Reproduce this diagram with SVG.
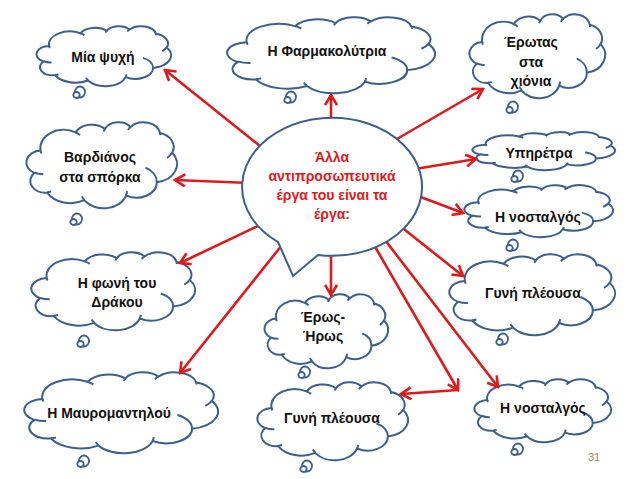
<svg xmlns="http://www.w3.org/2000/svg" xmlns:xlink="http://www.w3.org/1999/xlink" width="638" height="479" viewBox="0 0 638 479">
<style>
.cb{fill:#fff;stroke:#3b5f8e;stroke-width:2;vector-effect:non-scaling-stroke}
.cc{fill:none;stroke:#3b5f8e;stroke-width:2;vector-effect:non-scaling-stroke}
.tail ellipse{fill:#fff;stroke:#3b5f8e;stroke-width:1.8}
.lbl{font-family:"Liberation Sans",Arial,sans-serif;font-weight:bold;font-size:14px;fill:#111;text-anchor:middle}
.ctr{font-family:"Liberation Sans",Arial,sans-serif;font-weight:bold;font-size:14px;fill:#e0191b;text-anchor:middle}
.conn line{stroke:#e0191b;stroke-width:2.6;fill:none;marker-end:url(#ah)}
</style>
<defs>
<g id="cloud">
<path class="cb" d="M39 143.7 A67.53 91.9 0 0 1 140.06 52.03 A53.33 72.67 0 0 1 224.56 34.32 A43.65 59.45 0 0 1 298.33 24.8 A48.57 65.95 0 0 1 383.19 55.75 A53.33 72.73 0 0 1 418.19 154.59 A67.75 92.2 0 0 1 374.04 302.02 A57.85 78.67 0 0 1 285.56 368.12 A67.52 92.15 0 0 1 164.8 392.64 A77.2 105.43 0 0 1 58.05 354.71 A43.6 59.18 0 0 1 21.13 255.5 A43.45 59.45 0 0 1 39 143.7 Z"/>
<path class="cc" d="M46.93 261.77 A43.45 59.45 0 0 1 21.6 253.8 M69.28 348.99 A43.6 59.18 0 0 1 58.2 352.8 M164.78 390.9 A67.52 92.15 0 0 1 158.09 373.48 M288.27 347.51 A67.52 92.15 0 0 1 285.6 366.6 M341.29 229.54 A57.85 78.67 0 0 1 373.81 300.9 M417.98 153.54 A53.33 72.73 0 0 1 403.51 180.29 M383.24 54.26 A48.57 65.95 0 0 1 384 66.9 M290.78 39.52 A48.57 65.95 0 0 1 298.2 23.41 M221.41 47.2 A43.65 59.45 0 0 1 225 33.3 M140 51.92 A67.53 91.9 0 0 1 153.01 65.41 M41.27 157.89 A67.53 91.9 0 0 1 39 143.71"/>
</g>
<g id="tl" class="tail"><ellipse cx="2" cy="-1" rx="5" ry="5.5"/><ellipse cx="-1.5" cy="2" rx="3.2" ry="3"/></g>
<marker id="ah" markerUnits="userSpaceOnUse" viewBox="0 0 14 14" markerWidth="14" markerHeight="14" refX="12" refY="7" orient="auto">
<path d="M2 1 L12 7 L2 13" fill="none" stroke="#e0191b" stroke-width="2.6"/>
</marker>
</defs>
<rect width="638" height="479" fill="#fff"/>

<g id="n-miapsyxi">
<use xlink:href="#cloud" transform="translate(37,26) scale(0.3102,0.1389)"/>
<use xlink:href="#tl" x="78" y="93"/>
<text class="lbl" x="103" y="62">Μία ψυχή</text>
</g>
<g id="n-farmakolytria">
<use xlink:href="#cloud" transform="translate(228,17) scale(0.4792,0.1759)"/>
<use xlink:href="#tl" x="289" y="98"/>
<text class="lbl" x="327" y="56">Η Φαρμακολύτρια</text>
</g>
<g id="n-erotas">
<use xlink:href="#cloud" transform="translate(470,14) scale(0.3125,0.1944)"/>
<use xlink:href="#tl" x="511" y="108"/>
<text class="lbl" x="531" y="47">Έρωτας</text>
<text class="lbl" x="531" y="67">στα</text>
<text class="lbl" x="531" y="86">χιόνια</text>
</g>
<g id="n-ypiretra">
<use xlink:href="#cloud" transform="translate(473,132) scale(0.3287,0.0880)"/>
<use xlink:href="#tl" x="516" y="177"/>
<text class="lbl" x="539" y="158">Υπηρέτρα</text>
</g>
<g id="n-nostalgos1">
<use xlink:href="#cloud" transform="translate(465,185) scale(0.3426,0.1204)"/>
<use xlink:href="#tl" x="511" y="246"/>
<text class="lbl" x="538" y="222">Η νοσταλγός</text>
</g>
<g id="n-vardianos">
<use xlink:href="#cloud" transform="translate(27,122) scale(0.3472,0.1991)"/>
<use xlink:href="#tl" x="75" y="220"/>
<text class="lbl" x="100" y="162">Βαρδιάνος</text>
<text class="lbl" x="100" y="182">στα σπόρκα</text>
</g>
<g id="n-foni">
<use xlink:href="#cloud" transform="translate(32,252) scale(0.3773,0.1806)"/>
<use xlink:href="#tl" x="82" y="342"/>
<text class="lbl" x="117" y="288">Η φωνή του</text>
<text class="lbl" x="117" y="307">Δράκου</text>
</g>
<g id="n-mavromantilou">
<use xlink:href="#cloud" transform="translate(25,372) scale(0.4468,0.1875)"/>
<use xlink:href="#tl" x="82" y="462"/>
<text class="lbl" x="109" y="418">Η Μαυρομαντηλού</text>
</g>
<g id="n-eros">
<use xlink:href="#cloud" transform="translate(265,294) scale(0.2847,0.1713)"/>
<use xlink:href="#tl" x="303" y="373"/>
<text class="lbl" x="323" y="322">Έρως-</text>
<text class="lbl" x="323" y="341">Ήρως</text>
</g>
<g id="n-gyni1">
<use xlink:href="#cloud" transform="translate(258,382) scale(0.3472,0.1806)"/>
<use xlink:href="#tl" x="305" y="467"/>
<text class="lbl" x="332" y="423">Γυνή πλέουσα</text>
</g>
<g id="n-gyni2">
<use xlink:href="#cloud" transform="translate(450,254) scale(0.3819,0.1875)"/>
<use xlink:href="#tl" x="501" y="340"/>
<text class="lbl" x="533" y="298">Γυνή πλέουσα</text>
</g>
<g id="n-nostalgos2">
<use xlink:href="#cloud" transform="translate(475,379) scale(0.3148,0.1458)"/>
<use xlink:href="#tl" x="516" y="450"/>
<text class="lbl" x="543" y="413">Η νοσταλγός</text>
</g>

<g id="connectors" class="conn">
<line x1="265" y1="150" x2="165" y2="70"/>
<line x1="331" y1="125" x2="331" y2="95"/>
<line x1="390" y1="143" x2="483" y2="89"/>
<line x1="415" y1="169" x2="476" y2="159"/>
<line x1="418" y1="196" x2="463" y2="213"/>
<line x1="250" y1="183" x2="175" y2="180"/>
<line x1="260" y1="225" x2="180" y2="263"/>
<line x1="282" y1="245" x2="180" y2="373"/>
<line x1="331" y1="250" x2="331" y2="295"/>
<line x1="374" y1="245" x2="458" y2="390"/>
<line x1="458" y1="390" x2="401" y2="394"/>
<line x1="385" y1="240" x2="498" y2="387"/>
<line x1="400" y1="226" x2="463" y2="276"/>
</g>

<g id="n-center">
<path d="M278 242 L293 276 L318 255 A90 69 0 1 0 278 242 Z" fill="#fff" stroke="#3b5f8e" stroke-width="2"/>
<text class="ctr" x="332" y="162">Άλλα</text>
<text class="ctr" x="332" y="181">αντιπροσωπευτικά</text>
<text class="ctr" x="332" y="200">έργα του είναι τα</text>
<text class="ctr" x="332" y="219">έργα:</text>
</g>
<text x="594" y="461" font-family="Liberation Sans,Arial,sans-serif" font-size="11" fill="#8c8c8c" text-anchor="middle">31</text>
</svg>
